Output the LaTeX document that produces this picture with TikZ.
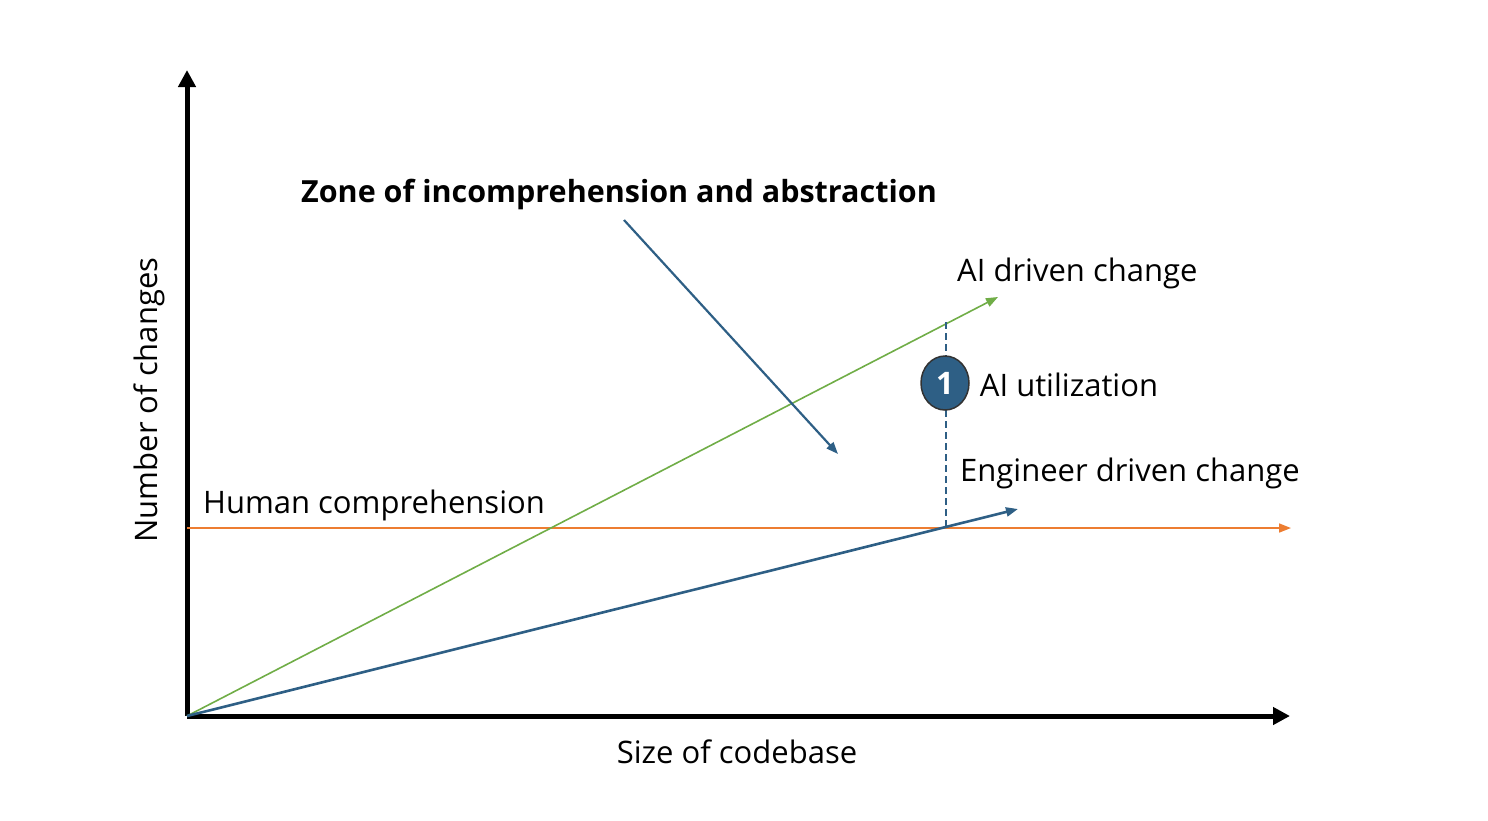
\documentclass[tikz,border=0pt]{standalone}
\usepackage{fontspec}
\setmainfont{Open Sans}
\usetikzlibrary{positioning}
\usetikzlibrary{arrows.meta}
\usetikzlibrary{shapes.geometric}
\definecolor{aiGreen}{HTML}{70AD47}
\definecolor{humanOrange}{HTML}{ED7D31}
\definecolor{engBlue}{HTML}{2E5F85}

\begin{document}
\begin{tikzpicture}[
  x=1pt, y=-1pt,
  axis/.style={line width=5pt,-{Triangle[length=17pt,width=17pt]}},
  trend/.style={-{Triangle[length=12pt,width=9pt]}},
  lbl/.style={anchor=west,inner sep=0pt,font=\fontsize{31}{35}\selectfont},
  badge/.style={draw=black!80,line width=1.5pt,fill=engBlue,ellipse,minimum width=48pt,minimum height=54pt,inner sep=0pt,text=white,font=\fontsize{31}{35}\selectfont\bfseries}
]
\useasboundingbox (0,0) rectangle (1488,820);

\coordinate (o) at (187,716);
\coordinate (ytop) at (187,70);
\coordinate (xend) at (1290,716);
\coordinate (h0) at (187,528);
\coordinate (h1) at (1291,528);
\coordinate (ai) at (998,297);
\coordinate (eng) at (1018,509);
\coordinate (dtop) at (946,322);
\coordinate (dbot) at (946,528);
\coordinate (z0) at (624,220);
\coordinate (z1) at (838,454);

% axes
\draw[axis] (o) -- (ytop);
\draw[axis] (o) -- (xend);

% trend lines
\draw[trend,humanOrange,line width=1.6pt] (h0) -- (h1);
\draw[trend,aiGreen,line width=1.6pt] (o) -- (ai);
\draw[trend,engBlue,line width=2.6pt] (o) -- (eng);
\draw[engBlue,line width=2.2pt,dash pattern=on 7pt off 4pt] (dtop) -- (dbot);
\draw[trend,engBlue,line width=2.2pt] (z0) -- (z1);

\node[badge] (one) at (945,383) {1};

% labels
\node[lbl,font=\fontsize{30.5}{35}\selectfont\bfseries] (zone) at (301,194) {Zone of incomprehension and abstraction};
\node[lbl] (aitxt) at (957,273) {AI driven change};
\node[lbl,right=10pt of one,yshift=-2pt] (util) {AI utilization};
\node[lbl] (engtxt) at (960,473) {Engineer driven change};
\node[lbl] (human) at (203,505) {Human comprehension};
\node[lbl,anchor=center,rotate=90] (ylab) at (149,400) {Number of changes};
\node[lbl,anchor=center] (xlab) at (737,752) {Size of codebase};

\end{tikzpicture}
\end{document}
